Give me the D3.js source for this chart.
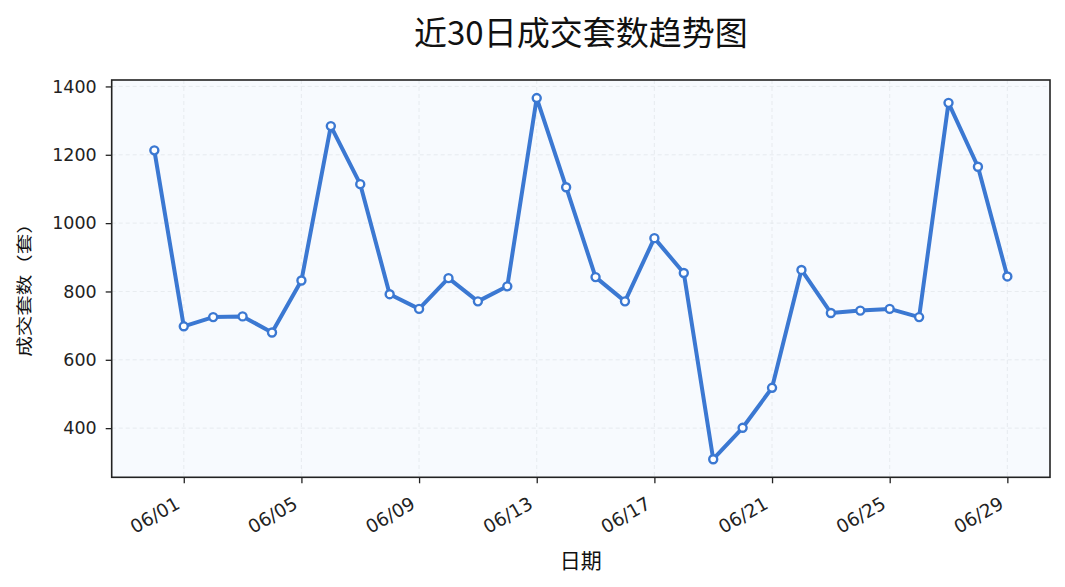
<!DOCTYPE html>
<html><head><meta charset="utf-8">
<script src="https://cdn.jsdelivr.net/npm/d3@7"></script>
<style>
body{margin:0;background:#fff;}
svg text{font-family:"Noto Sans CJK SC","Noto Sans",sans-serif;}
.tick text{font-family:"DejaVu Sans",sans-serif;}
</style></head>
<body><svg id="c" width="1065" height="587"></svg>
<script>
const dates = ["05/31","06/01","06/02","06/03","06/04","06/05","06/06","06/07","06/08","06/09",
"06/10","06/11","06/12","06/13","06/14","06/15","06/16","06/17","06/18","06/19",
"06/20","06/21","06/22","06/23","06/24","06/25","06/26","06/27","06/28","06/29"];
const values = [1213,698,725,727,680,832,1284,1114,792,749,
839,771,815,1366,1105,842,771,956,854,309,
401,518,863,737,744,749,725,1352,1165,844];
const yTicks = [400,600,800,1000,1200,1400];
const xTickLabels = ["06/01","06/05","06/09","06/13","06/17","06/21","06/25","06/29"];

const svg = d3.select("#c");
const L=111.7, R=1050, T=80, B=477.3;
const n = values.length;
const pad = (n-1)*0.05;
const x = d3.scaleLinear().domain([-pad, n-1+pad]).range([L,R]);
const ymin=d3.min(values), ymax=d3.max(values), yp=(ymax-ymin)*0.05;
const y = d3.scaleLinear().domain([ymin-yp, ymax+yp]).range([B,T]);

svg.append("rect").attr("x",L).attr("y",T).attr("width",R-L).attr("height",B-T).attr("fill","#f7fafe");

const xTickIdx = xTickLabels.map(l=>dates.indexOf(l));
// grid
svg.append("g").selectAll("line").data(yTicks).join("line")
 .attr("x1",L).attr("x2",R).attr("y1",d=>y(d)).attr("y2",d=>y(d))
 .attr("stroke","#dfe3e8").attr("stroke-width",0.9).attr("stroke-dasharray","4,3").attr("opacity",0.7);
svg.append("g").selectAll("line").data(xTickIdx).join("line")
 .attr("y1",T).attr("y2",B).attr("x1",d=>x(d)).attr("x2",d=>x(d))
 .attr("stroke","#dfe3e8").attr("stroke-width",0.9).attr("stroke-dasharray","4,3").attr("opacity",0.7);

// axes
const yAxis = svg.append("g").attr("transform",`translate(${L},0)`)
 .call(d3.axisLeft(y).tickValues(yTicks).tickSize(6).tickPadding(9).tickFormat(d3.format("d")));
yAxis.select(".domain").remove();
yAxis.selectAll(".tick line").attr("stroke","#222").attr("stroke-width",1.3);
yAxis.selectAll(".tick text").attr("font-size",17.5).attr("fill","#222");

const xAxis = svg.append("g").attr("transform",`translate(0,${B})`)
 .call(d3.axisBottom(x).tickValues(xTickIdx).tickSize(6).tickFormat((d,i)=>xTickLabels[i]));
xAxis.select(".domain").remove();
xAxis.selectAll(".tick line").attr("stroke","#222").attr("stroke-width",1.3);
xAxis.selectAll(".tick text").attr("font-size",18.5).attr("fill","#222")
 .attr("text-anchor","end").attr("dy",null).attr("y",0)
 .attr("transform","translate(-3,30) rotate(-30)");

svg.append("rect").attr("x",L).attr("y",T).attr("width",R-L).attr("height",B-T)
 .attr("fill","none").attr("stroke","#222").attr("stroke-width",1.6);

// line
const line = d3.line().x((d,i)=>x(i)).y(d=>y(d));
svg.append("path").datum(values).attr("d",line).attr("fill","none")
 .attr("stroke","#3b78d2").attr("stroke-width",4).attr("stroke-linejoin","round");
svg.append("g").selectAll("circle").data(values).join("circle")
 .attr("cx",(d,i)=>x(i)).attr("cy",d=>y(d)).attr("r",4)
 .attr("fill","#fff").attr("stroke","#3b78d2").attr("stroke-width",2.4);

// labels
svg.append("text").attr("x",(L+R)/2).attr("y",45).attr("text-anchor","middle")
 .attr("font-size",33).attr("fill","#111").text("近30日成交套数趋势图");
svg.append("text").attr("x",(L+R)/2).attr("y",568).attr("text-anchor","middle")
 .attr("font-size",21).attr("fill","#111").text("日期");
svg.append("text").attr("transform",`translate(30,285) rotate(-90) scale(1,0.78)`).attr("text-anchor","middle")
 .attr("font-size",20.5).attr("fill","#111").text("成交套数（套）");
</script></body></html>
